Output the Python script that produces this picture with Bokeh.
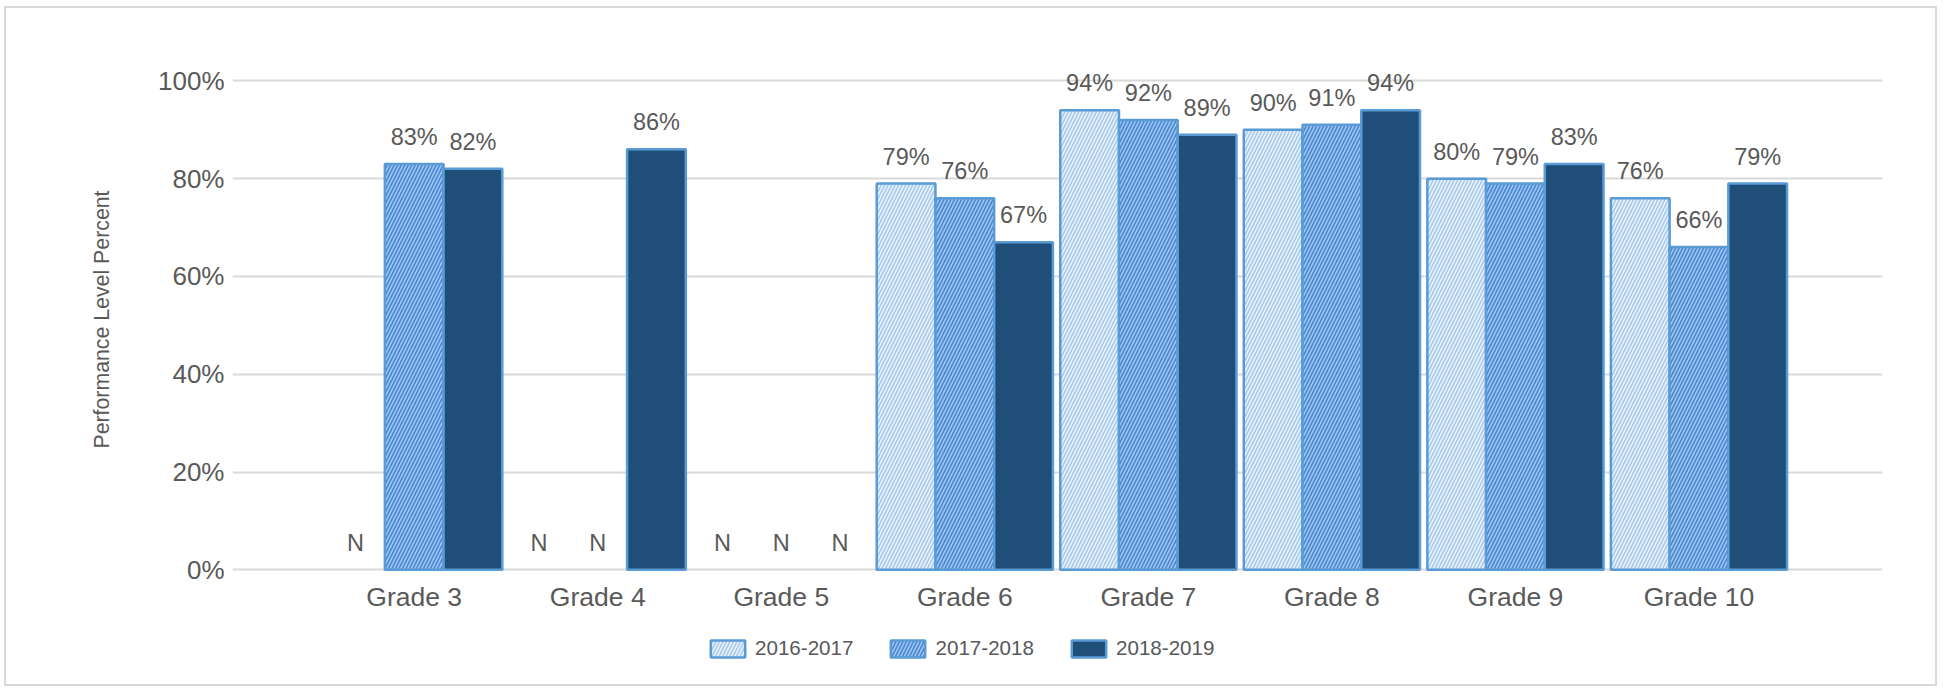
from bokeh.plotting import figure
from bokeh.models import (ColumnDataSource, Range1d, FixedTicker, Legend, LegendItem,
                          CustomJSTickFormatter, Title)
from bokeh.transform import dodge
from bokeh.core.properties import value
from bokeh.embed import file_html
from bokeh.resources import INLINE

grades = ["Grade 3", "Grade 4", "Grade 5", "Grade 6", "Grade 7", "Grade 8", "Grade 9", "Grade 10"]
series_names = ["2016-2017", "2017-2018", "2018-2019"]
vals_2016_2017 = [None, None, None, 79, 94, 90, 80, 76]
vals_2017_2018 = [83, None, None, 76, 92, 91, 79, 66]
vals_2018_2019 = [82, 86, None, 67, 89, 94, 83, 79]
y_ticks = [0, 20, 40, 60, 80, 100]

FONT = "Liberation Sans"
TXT = "#595959"

PX_PER_UNIT = 4.89
FRAME_H = 619
Y_TOP = 106
Y_BOTTOM = Y_TOP - FRAME_H / PX_PER_UNIT

p = figure(frame_width=1650, frame_height=FRAME_H, output_backend="svg", toolbar_location=None,
           x_range=Range1d(-0.99, 8.0), y_range=Range1d(Y_BOTTOM, Y_TOP),
           min_border_left=226, min_border_right=53, min_border_top=43, min_border_bottom=14)
p.styles = {"border": "2px solid #D9D9D9", "margin-left": "4px", "margin-top": "6px"}
p.outline_line_color = None
p.background_fill_color = "white"

xs = list(range(len(grades)))
bw = 0.32
styles = [
    dict(fill_color="#A9CBEC", hatch_color="#EEF5FC"),
    dict(fill_color="#4A8AD4", hatch_color="#A9CAEF"),
    dict(fill_color="#1F4E79", hatch_color=None),
]
offsets = [-bw, 0.0, bw]
all_vals = [vals_2016_2017, vals_2017_2018, vals_2018_2019]

renderers = []
for name, vals, off, st in zip(series_names, all_vals, offsets, styles):
    tops = [float("nan") if v is None else v for v in vals]
    labels = ["N" if v is None else f"{v}%" for v in vals]
    ly = [0 if v is None else v for v in vals]
    src = ColumnDataSource(dict(x=xs, top=tops, lab=labels, ly=ly))
    kw = dict(hatch_pattern="/", hatch_scale=7, hatch_weight=1.5,
              hatch_color=st["hatch_color"], hatch_alpha=0.95) if st["hatch_color"] else {}
    r = p.vbar(x=dodge("x", off), top="top", width=bw, bottom=0, source=src,
               fill_color=st["fill_color"], line_color="#5B9BD5", line_width=2.5, **kw)
    renderers.append(r)
    p.text(x=dodge("x", off), y="ly", text="lab", source=src, text_align="center",
           text_baseline="middle", y_offset=-27, text_font=value(FONT),
           text_font_size="23.5px", text_color=TXT)

# category labels under the zero line
gsrc = ColumnDataSource(dict(x=xs, y=[0] * len(xs), g=grades))
p.text(x="x", y="y", text="g", source=gsrc, text_align="center", text_baseline="middle",
       y_offset=27, text_font=value(FONT), text_font_size="26.5px", text_color=TXT)

# y axis
p.yaxis.ticker = FixedTicker(ticks=y_ticks)
p.yaxis.formatter = CustomJSTickFormatter(code="return tick + '%';")
p.yaxis.axis_line_color = None
p.yaxis.major_tick_line_color = None
p.yaxis.minor_tick_line_color = None
p.yaxis.major_label_standoff = 2
p.yaxis.major_label_text_font = FONT
p.yaxis.major_label_text_font_size = "26px"
p.yaxis.major_label_text_color = TXT
p.xaxis.visible = False

ytitle = Title(text="Performance Level Percent", align="right", offset=139, standoff=83,
               text_font=FONT, text_font_size="21.3px", text_font_style="normal",
               text_color=TXT)
p.add_layout(ytitle, "left")

p.xgrid.grid_line_color = None
p.ygrid.grid_line_color = "#D9D9D9"
p.ygrid.grid_line_width = 2

legend = Legend(items=[LegendItem(label=n, renderers=[r]) for n, r in zip(series_names, renderers)],
                orientation="horizontal", location=(474, 10),
                glyph_width=43, glyph_height=21, label_height=21, label_standoff=6, spacing=33,
                label_text_font=FONT, label_text_font_size="20.6px", label_text_color=TXT,
                border_line_color=None, background_fill_alpha=0, margin=0, padding=0)
p.add_layout(legend, "center")

open("out.html", "w").write(file_html(p, INLINE))
